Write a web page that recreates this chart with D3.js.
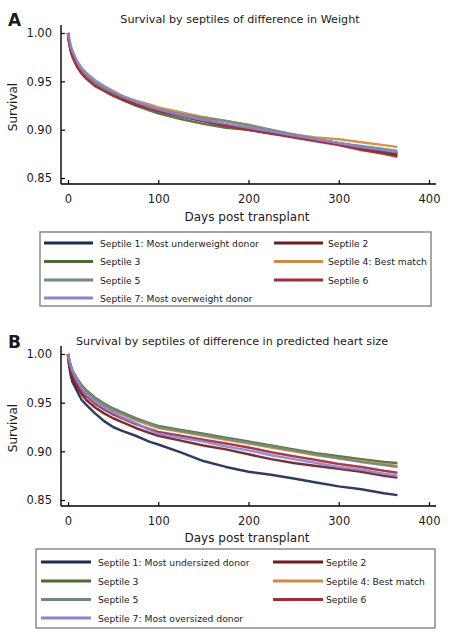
<!DOCTYPE html>
<html><head><meta charset="utf-8">
<script src="https://cdn.jsdelivr.net/npm/d3@7"></script>
<style>body{margin:0;background:#fff}svg{display:block}text{font-family:"DejaVu Sans",Verdana,sans-serif;fill:#1a1a1a}</style>
</head><body>
<svg id="c" width="450" height="642"></svg>
<script>
const days = [0,1,3,5,10,15,20,30,40,50,60,75,90,100,125,150,175,200,225,250,275,300,325,350,365];
const xTicks = [0,100,200,300,400];
const yTicks = [0.85,0.90,0.95,1.00];
const seriesColors = ["#1f2a50","#6e1c24","#4b6b35","#d08a45","#718a7c","#a52a3a","#8c84cc"];

// Panel A: weight
const titleA = "Survival by septiles of difference in Weight";
const labelsA = ["Septile 1: Most underweight donor","Septile 2","Septile 3","Septile 4: Best match","Septile 5","Septile 6","Septile 7: Most overweight donor"];
const a1 = [1.000,0.993,0.984,0.978,0.968,0.961,0.956,0.948,0.942,0.937,0.933,0.928,0.924,0.921,0.915,0.910,0.905,0.901,0.897,0.894,0.890,0.886,0.882,0.878,0.875];
const a2 = [1.000,0.992,0.983,0.977,0.966,0.959,0.954,0.946,0.941,0.936,0.932,0.927,0.923,0.920,0.914,0.909,0.904,0.900,0.896,0.893,0.889,0.885,0.880,0.876,0.873];
const a3 = [1.000,0.993,0.983,0.977,0.967,0.960,0.955,0.947,0.941,0.936,0.931,0.925,0.920,0.917,0.911,0.906,0.902,0.900,0.897,0.894,0.890,0.886,0.882,0.878,0.876];
const a4 = [1.000,0.994,0.986,0.980,0.970,0.963,0.958,0.950,0.944,0.939,0.935,0.930,0.926,0.923,0.918,0.913,0.909,0.904,0.899,0.895,0.892,0.890,0.887,0.884,0.882];
const a5 = [1.000,0.992,0.982,0.976,0.966,0.960,0.955,0.948,0.942,0.938,0.934,0.928,0.924,0.921,0.916,0.912,0.909,0.905,0.900,0.895,0.890,0.886,0.883,0.880,0.878];
const a6 = [1.000,0.991,0.981,0.975,0.965,0.958,0.953,0.945,0.940,0.935,0.931,0.926,0.922,0.919,0.914,0.909,0.904,0.900,0.896,0.892,0.888,0.884,0.879,0.875,0.872];
const a7 = [1.000,0.995,0.987,0.981,0.971,0.964,0.959,0.951,0.945,0.940,0.935,0.929,0.924,0.921,0.915,0.910,0.906,0.902,0.898,0.894,0.890,0.886,0.882,0.879,0.877];

// Panel B: predicted heart size
const titleB = "Survival by septiles of difference in predicted heart size";
const labelsB = ["Septile 1: Most undersized donor","Septile 2","Septile 3","Septile 4: Best match","Septile 5","Septile 6","Septile 7: Most oversized donor"];
const b1 = [1.000,0.990,0.978,0.971,0.962,0.953,0.948,0.939,0.931,0.925,0.921,0.916,0.910,0.907,0.899,0.890,0.884,0.879,0.876,0.872,0.868,0.864,0.861,0.857,0.855];
const b2 = [1.000,0.991,0.982,0.976,0.966,0.959,0.953,0.945,0.939,0.934,0.930,0.924,0.919,0.916,0.911,0.906,0.902,0.897,0.892,0.888,0.885,0.882,0.879,0.875,0.873];
const b3 = [1.000,0.995,0.988,0.983,0.975,0.968,0.963,0.955,0.949,0.944,0.940,0.934,0.929,0.926,0.922,0.918,0.914,0.910,0.906,0.902,0.898,0.895,0.892,0.889,0.888];
const b4 = [1.000,0.994,0.987,0.982,0.973,0.966,0.961,0.953,0.947,0.942,0.938,0.932,0.927,0.924,0.920,0.916,0.912,0.908,0.904,0.900,0.896,0.893,0.890,0.887,0.885];
const b5 = [1.000,0.995,0.988,0.982,0.974,0.967,0.962,0.954,0.948,0.943,0.939,0.933,0.929,0.925,0.921,0.917,0.913,0.909,0.905,0.901,0.897,0.893,0.889,0.886,0.884];
const b6 = [1.000,0.992,0.984,0.978,0.969,0.962,0.957,0.949,0.943,0.938,0.934,0.928,0.923,0.920,0.916,0.912,0.908,0.904,0.899,0.895,0.891,0.887,0.884,0.880,0.878];
const b7 = [1.000,0.995,0.988,0.982,0.973,0.965,0.959,0.951,0.945,0.940,0.935,0.929,0.922,0.918,0.914,0.910,0.905,0.901,0.896,0.892,0.888,0.884,0.881,0.877,0.875];

const svg = d3.select("#c");

function panel(cfg){
  const g = svg.append("g");
  const x = d3.scaleLinear().domain([0,400]).range([68,429]);
  const y = d3.scaleLinear().domain([0.85,1.00]).range([cfg.y085, cfg.y100]);
  const yBottom = cfg.y085 + 6, yTop = cfg.y100 - 8;
  g.append("text").attr("x",8).attr("y",cfg.letterY).attr("font-size",17).attr("font-weight","bold").attr("font-family","Liberation Sans, Arial, sans-serif").text(cfg.letter);
  g.append("text").attr("x",cfg.titleX).attr("y",cfg.titleY).attr("text-anchor","middle").attr("font-size",11.2).text(cfg.title);
  const line = d3.line().x((d,i)=>x(days[i])).y(d=>y(d));
  cfg.series.forEach((s,i)=>{
    g.append("path").attr("d",line(s)).attr("fill","none").attr("stroke",seriesColors[i]).attr("stroke-width",2.5).attr("stroke-linejoin","round").attr("opacity",0.92);
  });
  g.append("line").attr("x1",61).attr("x2",61).attr("y1",yTop).attr("y2",yBottom).attr("stroke","#000").attr("stroke-width",1.4);
  g.append("line").attr("x1",61).attr("x2",436).attr("y1",yBottom).attr("y2",yBottom).attr("stroke","#000").attr("stroke-width",1.4);
  const ya = d3.axisRight(y).tickValues(yTicks).tickSize(4).tickFormat(d3.format(".2f"));
  const yg = g.append("g").attr("transform","translate(61,0)").call(ya);
  yg.select(".domain").remove();
  yg.selectAll(".tick line").attr("stroke","#000").attr("stroke-width",1.2);
  yg.selectAll(".tick text").attr("x",-9).attr("text-anchor","end").attr("font-size",11.5).attr("font-family","DejaVu Sans, sans-serif").attr("fill","#1a1a1a");
  const xa = d3.axisTop(x).tickValues(xTicks).tickSize(4).tickFormat(d3.format("d"));
  const xg = g.append("g").attr("transform",`translate(0,${yBottom})`).call(xa);
  xg.select(".domain").remove();
  xg.selectAll(".tick line").attr("stroke","#000").attr("stroke-width",1.2);
  xg.selectAll(".tick text").attr("y",cfg.xTickDy).attr("dy",0).attr("font-size",11.5).attr("font-family","DejaVu Sans, sans-serif").attr("fill","#1a1a1a");
  g.append("text").attr("x",247).attr("y",cfg.xLabelY).attr("text-anchor","middle").attr("font-size",12).text("Days post transplant");
  g.append("text").attr("transform",`translate(17,${cfg.yLabelY}) rotate(-90)`).attr("text-anchor","middle").attr("font-size",12).text("Survival");
  const L = cfg.legend;
  g.append("rect").attr("x",L.x).attr("y",L.y).attr("width",L.w).attr("height",L.h).attr("fill","#fff").attr("stroke","#8a8a8a").attr("stroke-width",1.5);
  const order = [[0,0,0],[1,1,0],[2,0,1],[3,1,1],[4,0,2],[5,1,2],[6,0,3]];
  order.forEach(([i,col,row])=>{
    const yy = L.rows[row];
    const lx = col===0 ? L.c1 : L.c2;
    g.append("line").attr("x1",lx[0]).attr("x2",lx[1]).attr("y1",yy).attr("y2",yy).attr("stroke",seriesColors[i]).attr("stroke-width",2.8);
    g.append("text").attr("x",lx[2]).attr("y",yy+3.5).attr("font-size",9.2).attr("fill","#222").text(cfg.labels[i]);
  });
}

panel({letter:"A",letterY:26,title:titleA,titleX:240,titleY:23,y100:33,y085:178,xTickDy:19,xLabelY:221,yLabelY:107,
  series:[a1,a2,a3,a4,a5,a6,a7],labels:labelsA,
  legend:{x:40,y:232,w:391,h:74,rows:[243,261.5,280,298],c1:[44,93,100],c2:[274,323,328]}});
panel({letter:"B",letterY:348,title:titleB,titleX:232,titleY:345,y100:354,y085:500,xTickDy:19,xLabelY:542,yLabelY:428,
  series:[b1,b2,b3,b4,b5,b6,b7],labels:labelsB,
  legend:{x:36,y:549,w:399,h:79,rows:[562,581,599.5,618],c1:[41,91,98],c2:[273,323,326]}});
</script>
</body></html>
